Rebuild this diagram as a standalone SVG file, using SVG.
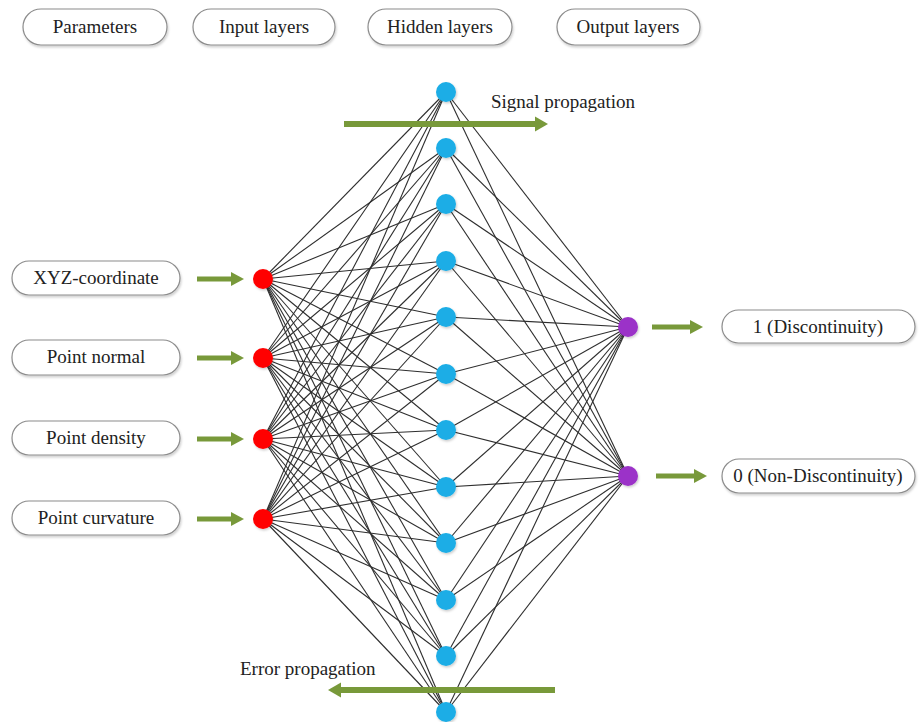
<svg xmlns="http://www.w3.org/2000/svg" width="920" height="722" viewBox="0 0 920 722">
<style>
.pill{fill:#fff;stroke:#8c8c8c;stroke-width:1.2;filter:url(#sh)}
text{font-family:'Liberation Serif','Times New Roman',Times,'DejaVu Serif',serif;font-size:19px;fill:#222}
.t{text-anchor:middle}
.in{fill:#ff0000}
.hid{fill:#1aade6}
.out{fill:#9b30c8}
.n circle{filter:url(#nsh)}
.c line{stroke:#2e2e2e;stroke-width:1.1}
.ga{stroke:#78993a;stroke-width:5;fill:none;marker-end:url(#ah)}
.gb{stroke:#78993a;stroke-width:6;fill:none;marker-end:url(#ah2)}
</style>
<defs>
<filter id="sh" x="-10%" y="-20%" width="120%" height="160%"><feDropShadow dx="1" dy="2" stdDeviation="1.2" flood-color="#000" flood-opacity="0.18"/></filter>
<filter id="nsh" x="-40%" y="-40%" width="180%" height="180%"><feDropShadow dx="1" dy="1.5" stdDeviation="1" flood-color="#000" flood-opacity="0.2"/></filter>
<marker id="ah" markerUnits="userSpaceOnUse" markerWidth="14" markerHeight="16" refX="0" refY="8" orient="auto"><path d="M0,1 L13,8 L0,15 z" fill="#78993a"/></marker>
<marker id="ah2" markerUnits="userSpaceOnUse" markerWidth="14" markerHeight="18" refX="0" refY="9" orient="auto"><path d="M0,1.5 L13,9 L0,16.5 z" fill="#78993a"/></marker>
</defs>
<rect width="920" height="722" fill="#fff"/>
<g id="headers">
<g id="h-params"><rect class="pill" x="23" y="9" width="144" height="36" rx="18"/><text class="t" x="95" y="33">Parameters</text></g>
<g id="h-input"><rect class="pill" x="193" y="9" width="142" height="36" rx="18"/><text class="t" x="264" y="33">Input layers</text></g>
<g id="h-hidden"><rect class="pill" x="368" y="9" width="144" height="36" rx="18"/><text class="t" x="440" y="33">Hidden layers</text></g>
<g id="h-output"><rect class="pill" x="557" y="9" width="143" height="36" rx="18"/><text class="t" x="628" y="33">Output layers</text></g>
</g>
<g id="connectors" class="c">
<g id="ih">
<line x1="263" y1="279" x2="446" y2="92"/><line x1="263" y1="279" x2="446" y2="148"/><line x1="263" y1="279" x2="446" y2="204"/><line x1="263" y1="279" x2="446" y2="261"/><line x1="263" y1="279" x2="446" y2="317"/><line x1="263" y1="279" x2="446" y2="374"/><line x1="263" y1="279" x2="446" y2="430"/><line x1="263" y1="279" x2="446" y2="487"/><line x1="263" y1="279" x2="446" y2="543"/><line x1="263" y1="279" x2="446" y2="600"/><line x1="263" y1="279" x2="446" y2="656"/><line x1="263" y1="279" x2="446" y2="712"/>
<line x1="263" y1="358" x2="446" y2="92"/><line x1="263" y1="358" x2="446" y2="148"/><line x1="263" y1="358" x2="446" y2="204"/><line x1="263" y1="358" x2="446" y2="261"/><line x1="263" y1="358" x2="446" y2="317"/><line x1="263" y1="358" x2="446" y2="374"/><line x1="263" y1="358" x2="446" y2="430"/><line x1="263" y1="358" x2="446" y2="487"/><line x1="263" y1="358" x2="446" y2="543"/><line x1="263" y1="358" x2="446" y2="600"/><line x1="263" y1="358" x2="446" y2="656"/><line x1="263" y1="358" x2="446" y2="712"/>
<line x1="263" y1="439" x2="446" y2="92"/><line x1="263" y1="439" x2="446" y2="148"/><line x1="263" y1="439" x2="446" y2="204"/><line x1="263" y1="439" x2="446" y2="261"/><line x1="263" y1="439" x2="446" y2="317"/><line x1="263" y1="439" x2="446" y2="374"/><line x1="263" y1="439" x2="446" y2="430"/><line x1="263" y1="439" x2="446" y2="487"/><line x1="263" y1="439" x2="446" y2="543"/><line x1="263" y1="439" x2="446" y2="600"/><line x1="263" y1="439" x2="446" y2="656"/><line x1="263" y1="439" x2="446" y2="712"/>
<line x1="263" y1="519" x2="446" y2="92"/><line x1="263" y1="519" x2="446" y2="148"/><line x1="263" y1="519" x2="446" y2="204"/><line x1="263" y1="519" x2="446" y2="261"/><line x1="263" y1="519" x2="446" y2="317"/><line x1="263" y1="519" x2="446" y2="374"/><line x1="263" y1="519" x2="446" y2="430"/><line x1="263" y1="519" x2="446" y2="487"/><line x1="263" y1="519" x2="446" y2="543"/><line x1="263" y1="519" x2="446" y2="600"/><line x1="263" y1="519" x2="446" y2="656"/><line x1="263" y1="519" x2="446" y2="712"/>
</g>
<g id="ho">
<line x1="446" y1="92" x2="628" y2="327"/><line x1="446" y1="148" x2="628" y2="327"/><line x1="446" y1="204" x2="628" y2="327"/><line x1="446" y1="261" x2="628" y2="327"/><line x1="446" y1="317" x2="628" y2="327"/><line x1="446" y1="374" x2="628" y2="327"/><line x1="446" y1="430" x2="628" y2="327"/><line x1="446" y1="487" x2="628" y2="327"/><line x1="446" y1="543" x2="628" y2="327"/><line x1="446" y1="600" x2="628" y2="327"/><line x1="446" y1="656" x2="628" y2="327"/><line x1="446" y1="712" x2="628" y2="327"/>
<line x1="446" y1="92" x2="628" y2="476"/><line x1="446" y1="148" x2="628" y2="476"/><line x1="446" y1="204" x2="628" y2="476"/><line x1="446" y1="261" x2="628" y2="476"/><line x1="446" y1="317" x2="628" y2="476"/><line x1="446" y1="374" x2="628" y2="476"/><line x1="446" y1="430" x2="628" y2="476"/><line x1="446" y1="487" x2="628" y2="476"/><line x1="446" y1="543" x2="628" y2="476"/><line x1="446" y1="600" x2="628" y2="476"/><line x1="446" y1="656" x2="628" y2="476"/><line x1="446" y1="712" x2="628" y2="476"/>
</g>
</g>
<g id="arrows">
<line class="ga" x1="197" y1="279" x2="231" y2="279"/>
<line class="ga" x1="197" y1="358" x2="231" y2="358"/>
<line class="ga" x1="197" y1="439" x2="231" y2="439"/>
<line class="ga" x1="197" y1="519" x2="231" y2="519"/>
<line class="ga" x1="652" y1="327" x2="690" y2="327"/>
<line class="ga" x1="656" y1="476" x2="694" y2="476"/>
<line class="gb" x1="344" y1="124" x2="535" y2="124"/>
<line class="gb" x1="555" y1="690" x2="341" y2="690"/>
</g>
<g id="params">
<g id="p-xyz"><rect class="pill" x="12" y="261" width="168" height="34" rx="17"/><text class="t" x="96" y="284">XYZ-coordinate</text></g>
<g id="p-normal"><rect class="pill" x="12" y="340" width="168" height="35" rx="17"/><text class="t" x="96" y="363">Point normal</text></g>
<g id="p-density"><rect class="pill" x="12" y="421" width="168" height="34" rx="17"/><text class="t" x="96" y="444">Point density</text></g>
<g id="p-curv"><rect class="pill" x="12" y="501" width="168" height="34" rx="17"/><text class="t" x="96" y="524">Point curvature</text></g>
</g>
<g id="input-nodes" class="n">
<circle id="i1" class="in" cx="263" cy="279" r="10"/>
<circle id="i2" class="in" cx="263" cy="358" r="10"/>
<circle id="i3" class="in" cx="263" cy="439" r="10"/>
<circle id="i4" class="in" cx="263" cy="519" r="10"/>
</g>
<g id="hidden-nodes" class="n">
<circle id="hn1" class="hid" cx="446" cy="92" r="10"/>
<circle id="hn2" class="hid" cx="446" cy="148" r="10"/>
<circle id="hn3" class="hid" cx="446" cy="204" r="10"/>
<circle id="hn4" class="hid" cx="446" cy="261" r="10"/>
<circle id="hn5" class="hid" cx="446" cy="317" r="10"/>
<circle id="hn6" class="hid" cx="446" cy="374" r="10"/>
<circle id="hn7" class="hid" cx="446" cy="430" r="10"/>
<circle id="hn8" class="hid" cx="446" cy="487" r="10"/>
<circle id="hn9" class="hid" cx="446" cy="543" r="10"/>
<circle id="hn10" class="hid" cx="446" cy="600" r="10"/>
<circle id="hn11" class="hid" cx="446" cy="656" r="10"/>
<circle id="hn12" class="hid" cx="446" cy="712" r="10"/>
</g>
<g id="output-nodes" class="n">
<circle id="o1" class="out" cx="628" cy="327" r="10"/>
<circle id="o2" class="out" cx="628" cy="476" r="10"/>
</g>
<g id="outputs">
<g id="out1"><rect class="pill" x="722" y="310" width="193" height="33" rx="16.5"/><text class="t" x="818" y="333">1 (Discontinuity)</text></g>
<g id="out0"><rect class="pill" x="722" y="459" width="193" height="34" rx="17"/><text class="t" x="818" y="482">0 (Non-Discontinuity)</text></g>
</g>
<g id="labels">
<text x="491" y="108">Signal propagation</text>
<text x="240" y="675">Error propagation</text>
</g>
</svg>
